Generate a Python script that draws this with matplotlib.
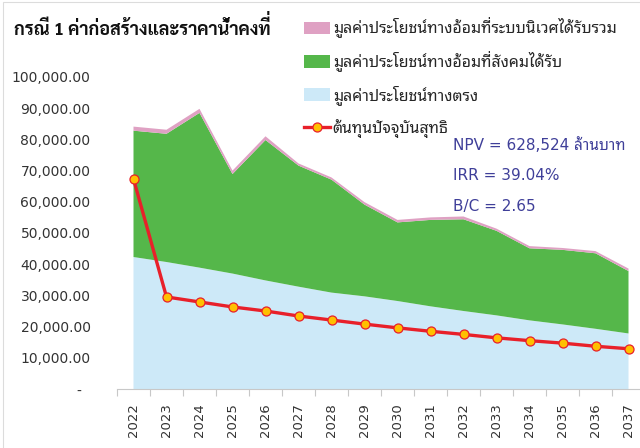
import matplotlib
matplotlib.use("Agg")
import matplotlib.pyplot as plt
import numpy as np
from matplotlib.patches import Rectangle
from matplotlib.transforms import Bbox, IdentityTransform

plt.rcParams['font.family'] = ['DejaVu Sans', 'Noto Sans Thai Looped']

# data
years = [2022, 2023, 2024, 2025, 2026, 2027, 2028, 2029,
         2030, 2031, 2032, 2033, 2034, 2035, 2036, 2037]
direct_benefit = [42300, 40700, 38900, 37000, 34800, 32800, 30900, 29700,
                  28200, 26500, 25000, 23600, 22000, 20700, 19300, 17800]
social_benefit = [40500, 41100, 49600, 31900, 45000, 38800, 36200, 29400,
                  25200, 27700, 29400, 27100, 23100, 23900, 24200, 20000]
eco_benefit = [1300, 1300, 1300, 1100, 1200, 700, 700, 800,
               800, 800, 900, 700, 700, 600, 700, 800]
net_cost = [67300, 29500, 27900, 26300, 25000, 23400, 22100, 20800,
            19600, 18500, 17500, 16400, 15500, 14700, 13700, 12900]

labels = ["มูลค่าประโยชน์ทางอ้อมที่ระบบนิเวศได้รับรวม",
          "มูลค่าประโยชน์ทางอ้อมที่สังคมได้รับ",
          "มูลค่าประโยชน์ทางตรง",
          "ต้นทุนปัจจุบันสุทธิ"]
title = "กรณี 1 ค่าก่อสร้างและราคาน้ำคงที่"
notes = ["NPV = 628,524 ล้านบาท", "IRR = 39.04%", "B/C = 2.65"]

blue = "#CDE9F8"
green = "#55B74A"
pink = "#DFA1C3"
red = "#E8202A"
yellow = "#FFC000"

# matplotlib does no Thai shaping: a mai ek after sara ii ends up hidden
# inside the vowel. Draw the text without it, then draw a raised copy
# clipped so that only the mark shows above the vowel.
MAI_EK = "\u0e48"
SARA_II = "\u0e35"


def strip_mark(s):
    return s.replace(SARA_II + MAI_EK, SARA_II)


def put_marks(fig, txt, original):
    r = fig.canvas.get_renderer()
    prop = txt.get_fontproperties()
    bb = txt.get_window_extent(r)

    def metric(s):
        return r.get_text_width_height_descent(s, prop, ismath=False)

    base = bb.y0 + max(metric(txt.get_text())[2], metric("lp")[2])
    w_t, h_t, d_t = metric("ท")
    _, h_ti, d_ti = metric("ที")
    top_t = h_t - d_t
    top_ti = h_ti - d_ti
    dy = top_ti - top_t
    em = prop.get_size_in_points() * fig.dpi / 72
    k = original.find(SARA_II + MAI_EK)
    while k >= 0:
        head = strip_mark(original[:k])
        x1 = bb.x0 + metric(head)[0]
        over = fig.text(bb.x0, base + dy, head + MAI_EK,
                        transform=IdentityTransform(), ha='left',
                        va='baseline', fontproperties=prop,
                        color=txt.get_color())
        over.set_clip_box(Bbox([[x1 - w_t - 2, base + top_ti + 1],
                                [x1 + 4, base + top_ti + em]]))
        k = original.find(SARA_II + MAI_EK, k + 2)


fig = plt.figure(figsize=(6.4, 4.48), dpi=100)
ax = fig.add_axes([117 / 640, 1 - 389 / 448, 528 / 640, 312 / 448])

x = np.arange(len(years))
polys = ax.stackplot(x, direct_benefit, social_benefit, eco_benefit,
                     colors=[blue, green, pink], linewidth=0)
line, = ax.plot(x, net_cost, color=red, lw=2.4, marker='o', ms=6.5,
                mfc=yellow, mec=red, mew=0.9, zorder=3)

ax.set_xlim(-0.5, len(years) - 0.5)
ax.set_ylim(0, 100000)
yt = np.arange(0, 100001, 10000)
ax.set_yticks(yt)
ax.set_yticklabels(["-  " if v == 0 else "{:,.2f}".format(v) for v in yt])
ax.tick_params(axis='y', length=0, pad=19, labelsize=10, labelcolor='#333333')

ax.set_xticks(x)
ax.set_xticklabels([str(y) for y in years], rotation=90)
ax.set_xticks(np.arange(-0.5, len(years), 1), minor=True)
ax.tick_params(axis='x', which='major', length=0, pad=10, labelsize=9.5,
               labelcolor='#333333')
ax.tick_params(axis='x', which='minor', length=5, color='#c8c8c8', width=0.8)

for s in ['top', 'right', 'left']:
    ax.spines[s].set_visible(False)
ax.spines['bottom'].set_color('#c8c8c8')
ax.spines['bottom'].set_linewidth(0.8)
ax.patch.set_alpha(0)

title_txt = fig.text(14 / 640, 1 - 35 / 448, strip_mark(title), fontsize=13,
                     fontweight='bold', family=['Sarabun', 'DejaVu Sans'],
                     va='baseline', ha='left', color='#111111')

handles = [polys[2], polys[1], polys[0], line]
leg = fig.legend(handles, [strip_mark(s) for s in labels], loc='upper left',
                 bbox_to_anchor=(298 / 640, 1 - 12 / 448), frameon=False,
                 fontsize=11.4, labelspacing=0.85, handlelength=1.65,
                 handleheight=0.85, handletextpad=0.15, borderaxespad=0)
for t in leg.get_texts():
    t.set_color('#262626')

for i, s in enumerate(notes):
    fig.text(453 / 640, 1 - (145 + 31 * i) / 448, s, fontsize=11,
             color='#3F3F99', va='center', ha='left')

fig.patches.append(Rectangle((3 / 640, -0.1), 1.2, 1 - 2 / 448 + 0.1,
                             transform=fig.transFigure, fill=False,
                             edgecolor='#dcdcdc', lw=0.8))

fig.canvas.draw()
put_marks(fig, title_txt, title)
for t, s in zip(leg.get_texts(), labels):
    put_marks(fig, t, s)

fig.savefig("out.png", dpi=100)
